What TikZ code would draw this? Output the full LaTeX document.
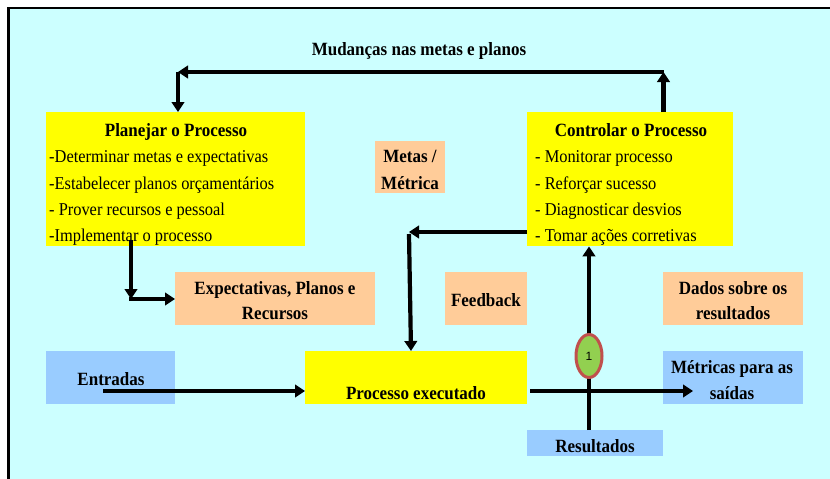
\documentclass[tikz,border=0pt]{standalone}
\usepackage{graphicx}
\usepackage{fontspec}
\setmainfont{Liberation Serif}
\newfontfamily\lsans{Liberation Sans}
\usetikzlibrary{arrows.meta,shapes.geometric}
\definecolor{bgcyan}{HTML}{CCFFFF}
\definecolor{boxyellow}{HTML}{FFFF00}
\definecolor{boxpeach}{HTML}{FFCC99}
\definecolor{boxblue}{HTML}{99CCFF}
\definecolor{ellred}{HTML}{C0504D}
\definecolor{ellgreen}{HTML}{92D050}
\newcommand\tallt[1]{\scalebox{1}[1.1]{#1}}
\tikzset{
  box/.style={fill=#1, draw=none, anchor=north west, inner sep=0pt},
  bt/.style={font=\fontsize{17}{20}\selectfont\bfseries, anchor=base, inner sep=0pt},
  lt/.style={font=\fontsize{16.4}{20}\selectfont, anchor=base west, inner sep=0pt},
  arr/.style={line width=4.2pt, -{Triangle[length=10pt,width=12.5pt]}},
}
\begin{document}
\begin{tikzpicture}[x=1pt,y=-1pt]
\useasboundingbox (0,0) rectangle (830,479);
% frame
\fill[bgcyan] (8,8) rectangle (830,479);
\draw[line width=2.5pt] (8.5,479) -- (8.5,8.2) -- (830,8.2);

% boxes
\node[box=boxyellow, minimum width=259pt, minimum height=134pt] (plan) at (46,112) {};
\node[box=boxyellow, minimum width=206pt, minimum height=134pt] (ctrl) at (527,112) {};
\node[box=boxpeach, minimum width=70pt, minimum height=52pt] (metas) at (375,141) {};
\node[box=boxpeach, minimum width=200pt, minimum height=53pt] (expect) at (175,272) {};
\node[box=boxpeach, minimum width=82pt, minimum height=53pt] (feed) at (445,272) {};
\node[box=boxpeach, minimum width=140pt, minimum height=53pt] (dados) at (663,272) {};
\node[box=boxblue, minimum width=129pt, minimum height=53pt] (entr) at (46,351) {};
\node[box=boxyellow, minimum width=222pt, minimum height=53pt] (proc) at (305,351) {};
\node[box=boxblue, minimum width=140pt, minimum height=53pt] (metr) at (663,351) {};
\node[box=boxblue, minimum width=136pt, minimum height=26pt] (res) at (527,430) {};

% texts
\node[bt] (ttop) at (419,55) {\tallt{Mudanças nas metas e planos}};
\node[bt] (tplan) at (176,136) {\tallt{Planejar o Processo}};
\node[lt] (p1) at (49,162) {\tallt{-Determinar metas e expectativas}};
\node[lt] (p2) at (49,189) {\tallt{-Estabelecer planos orçamentários}};
\node[lt] (p3) at (49,215) {\tallt{- Prover recursos e pessoal}};
\node[lt] (p4) at (49,241) {\tallt{-Implementar o processo}};
\node[bt] (tctrl) at (631,136) {\tallt{Controlar o Processo}};
\node[lt] (c1t) at (535,162) {\tallt{- Monitorar processo}};
\node[lt] (c2t) at (535,189) {\tallt{- Reforçar sucesso}};
\node[lt] (c3t) at (535,215) {\tallt{- Diagnosticar desvios}};
\node[lt] (c4t) at (535,241) {\tallt{- Tomar ações corretivas}};
\node[bt] (tm1) at (410,162) {\tallt{Metas /}};
\node[bt] (tm2) at (410,189) {\tallt{Métrica}};
\node[bt] (te1) at (275,294) {\tallt{Expectativas, Planos e}};
\node[bt] (te2) at (275,319) {\tallt{Recursos}};
\node[bt] (tf) at (486,306) {\tallt{Feedback}};
\node[bt] (td1) at (733,294) {\tallt{Dados sobre os}};
\node[bt] (td2) at (733,319) {\tallt{resultados}};
\node[bt] (ten) at (111,385) {\tallt{Entradas}};
\node[bt] (tpr) at (416,399) {\tallt{Processo executado}};
\node[bt] (tme1) at (732,373) {\tallt{Métricas para as}};
\node[bt] (tme2) at (732,399) {\tallt{saídas}};
\node[bt] (tres) at (595,452) {\tallt{Resultados}};

% connectors
\coordinate (k1) at (663.5,72);
\coordinate (k2) at (178,72);
\draw[arr] (ctrl.north -| k1) -- (k1);
\draw[arr] (k1) -- (k2);
\draw[arr] (k2) -- (k2 |- plan.north);

\coordinate (a1) at (131,240);
\coordinate (a2) at (131,299);
\draw[arr] (a1) -- (a2);
\draw[arr] ([xshift=-2pt]a2) -- (a2 -| expect.west);

\coordinate (b1) at (409,232);
\draw[arr] (ctrl.west |- b1) -- (b1);
\draw[arr] ([yshift=-2pt]b1) -- (411,351) coordinate (b2);

\coordinate (ex) at (589,356);
\draw[arr] (res.north -| ex) -- (ctrl.south -| ex);

\coordinate (e1) at (103,391);
\draw[arr] (e1) -- (e1 -| proc.west);

\coordinate (m1) at (530,391);
\coordinate (m2) at (693,391);
\draw[arr] (m1) -- (m2);

\node[ellipse, draw=ellred, line width=3pt, fill=ellgreen, minimum width=26pt, minimum height=43pt, inner sep=0pt, font=\lsans\fontsize{12}{14}\selectfont] (ell) at (ex) {1};
\end{tikzpicture}
\end{document}
